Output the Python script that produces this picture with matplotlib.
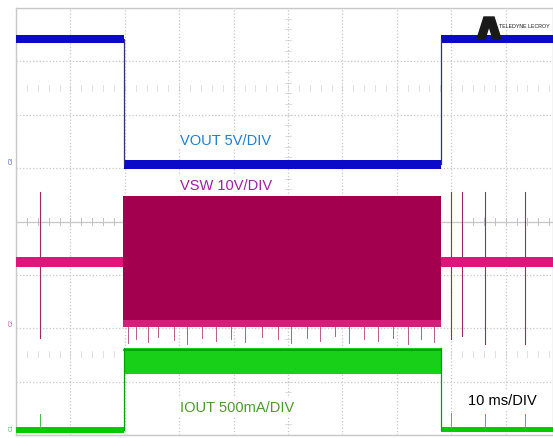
import numpy as np
import matplotlib.pyplot as plt
from matplotlib.patches import Polygon

plt.rcParams['font.family'] = ['Liberation Sans', 'DejaVu Sans']

# time in ms (10 ms/div), trace levels in screen divisions (0 = bottom, 8 = top)
t_on, t_off = 19.9, 78.1
t_end = 98.7

# VOUT (5 V/div)
vout_hi, vout_lo = 7.42, 5.07
vout_w = 0.16

# VSW (10 V/div)
vsw_idle, vsw_idle_w = 3.24, 0.18
vsw_top, vsw_bot = 4.48, 2.02
vsw_spike_t = [4.4, 80.0, 82.0, 86.2, 93.6]
vsw_spike_top = [4.55, 4.55, 4.55, 4.55, 4.55]
vsw_spike_bot = [1.82, 1.80, 1.85, 1.70, 1.70]
# ragged undershoot hanging below the switching block
vsw_tail_t = [20.5, 22.0, 24.3, 26.1, 29.0, 31.5, 34.2, 36.8, 39.5, 42.0, 45.3,
              48.1, 50.6, 53.4, 55.9, 58.7, 61.2, 64.0, 66.5, 69.3, 72.0, 74.4, 76.9]
vsw_tail_d = [1.72, 1.80, 1.75, 1.84, 1.78, 1.70, 1.82, 1.76, 1.80, 1.74, 1.83,
              1.79, 1.72, 1.81, 1.77, 1.85, 1.73, 1.80, 1.76, 1.82, 1.71, 1.79, 1.74]

# IOUT (500 mA/div)
iout_idle, iout_idle_w = 0.09, 0.11
iout_top, iout_bot = 1.63, 1.14
iout_spike_t = [4.4, 80.0, 86.2, 93.6]
iout_spike_h = [0.40, 0.42, 0.40, 0.40]

W, H = 553, 439
fig = plt.figure(figsize=(W / 100, H / 100), dpi=100)
ax = fig.add_axes([16 / W, 3 / H, (W - 16) / W, 427 / H])
ax.set_xlim(0, t_end)
ax.set_ylim(0, 8)
ax.set_axisbelow(True)

# graticule
ax.set_xticks(np.arange(0, 100, 10))
ax.set_yticks(np.arange(0, 9, 1))
ax.grid(True, color='#c8c8c8', linestyle=':', linewidth=0.9, zorder=0)
ax.tick_params(length=0, labelbottom=False, labelleft=False)
for s in ax.spines.values():
    s.set_color('#c8c8c8')
    s.set_linewidth(1.0)
ax.axhline(4, color='#c8c8c8', lw=0.9, zorder=0.5)
for xx in np.arange(0, t_end, 2):
    ax.plot([xx, xx], [3.94, 4.06], color='#c0c0c0', lw=0.7, zorder=0.5)
    ax.plot([xx, xx], [6.45, 6.55], color='#dcdcdc', lw=0.6, zorder=0.5)
    ax.plot([xx, xx], [1.47, 1.57], color='#dcdcdc', lw=0.6, zorder=0.5)
for yy in np.arange(0, 8, 0.2):
    ax.plot([49.5, 50.5], [yy, yy], color='#d8d8d8', lw=0.6, zorder=0.5)

# VOUT trace
blue = '#0a0ac8'
ax.fill_between([0, t_on], vout_hi - vout_w / 2, vout_hi + vout_w / 2, color=blue, lw=0, zorder=3)
ax.fill_between([t_on, t_off], vout_lo - vout_w / 2, vout_lo + vout_w / 2, color=blue, lw=0, zorder=3)
ax.fill_between([t_off, t_end], vout_hi - vout_w / 2, vout_hi + vout_w / 2, color=blue, lw=0, zorder=3)
ax.plot([t_on, t_on], [vout_lo, vout_hi], color='#303080', lw=0.9, zorder=3)
ax.plot([t_off, t_off], [vout_lo, vout_hi], color='#303080', lw=0.9, zorder=3)

# VSW trace
pink, crimson = '#e0157c', '#a3004f'
for x, lo, hi in zip(vsw_spike_t, vsw_spike_bot, vsw_spike_top):
    ax.plot([x, x], [lo, hi], color='#9a2a6a', lw=0.8, zorder=2)
ax.fill_between([0, t_on], vsw_idle - vsw_idle_w / 2, vsw_idle + vsw_idle_w / 2, color=pink, lw=0, zorder=3)
ax.fill_between([t_off, t_end], vsw_idle - vsw_idle_w / 2, vsw_idle + vsw_idle_w / 2, color=pink, lw=0, zorder=3)
for x, d in zip(vsw_tail_t, vsw_tail_d):
    ax.plot([x, x], [d, vsw_bot], color='#b04080', lw=0.6, zorder=2)
ax.fill_between([t_on - 0.3, t_off], vsw_bot, vsw_top, color=crimson, lw=0, zorder=3)
ax.fill_between([t_on - 0.3, t_off], vsw_bot, vsw_bot + 0.13, color='#d0207a', lw=0, zorder=3)

# IOUT trace
green = '#00cc00'
for x, h in zip(iout_spike_t, iout_spike_h):
    ax.plot([x, x], [iout_idle, h], color='#40c040', lw=0.7, zorder=2)
ax.fill_between([0, t_on], iout_idle - iout_idle_w / 2, iout_idle + iout_idle_w / 2, color=green, lw=0, zorder=3)
ax.fill_between([t_off, t_end], iout_idle - iout_idle_w / 2 + 0.02, iout_idle + iout_idle_w / 2, color=green, lw=0, zorder=3)
ax.fill_between([t_on, t_off], iout_bot, iout_top, color='#18d018', lw=0, zorder=3)
ax.plot([t_on, t_off], [iout_top - 0.03, iout_top - 0.03], color='#009a00', lw=1.2, zorder=3)
ax.plot([t_on, t_on], [iout_idle, iout_top], color='#00a000', lw=0.9, zorder=3)
ax.plot([t_off, t_off], [iout_idle, iout_top], color='#00a000', lw=0.9, zorder=3)

# annotations
box = dict(facecolor='white', edgecolor='none', pad=1.5)
ax.text(30.1, 5.52, 'VOUT 5V/DIV', color='#1f80d0', fontsize=10.5, va='center', bbox=box, zorder=5)
ax.text(30.1, 4.69, 'VSW 10V/DIV', color='#a020a0', fontsize=10.5, va='center', bbox=box, zorder=5)
ax.text(30.1, 0.52, 'IOUT 500mA/DIV', color='#4c9a2a', fontsize=10.5, va='center', bbox=box, zorder=5)
ax.text(83.0, 0.66, '10 ms/DIV', color='black', fontsize=10.5, va='center', bbox=box, zorder=5)

# channel markers on the left edge
fig.text(11 / W, 1 - 160 / H, 'C3', fontsize=4, rotation=90, color='#3050a0', ha='center', va='center')
fig.text(11 / W, 1 - 323 / H, 'C2', fontsize=4, rotation=90, color='#d040a0', ha='center', va='center')
fig.text(11 / W, 1 - 428 / H, 'C1', fontsize=4, rotation=90, color='#40b040', ha='center', va='center')

# logo
logo = Polygon([[477 / W, 1 - 40 / H], [484 / W, 1 - 18 / H], [494 / W, 1 - 18 / H],
                [501 / W, 1 - 40 / H], [493 / W, 1 - 40 / H], [489 / W, 1 - 27 / H],
                [485 / W, 1 - 40 / H]], closed=True, transform=fig.transFigure,
               color='#1a1a1a', zorder=10)
fig.patches.append(logo)
fig.text(550 / W, 1 - 27 / H, 'TELEDYNE LECROY', fontsize=3.8, color='#1a1a1a',
         ha='right', va='center', zorder=11)

fig.savefig('out.png', dpi=100)
